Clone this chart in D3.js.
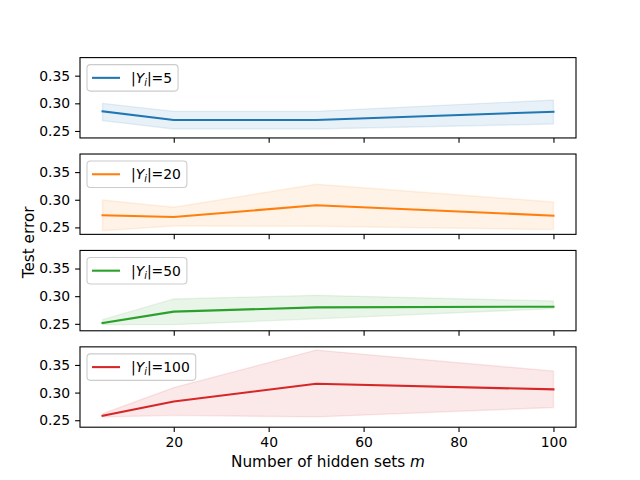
<!DOCTYPE html>
<html>
    <head>
        <meta charset="utf-8">
        <style>
            body{ margin: 0; background: #fff; }
            text{ font-family: "DejaVu Sans", sans-serif; }
        </style>
    </head>
    <body>
        <svg id="chart" width="640" height="480"></svg>
        <script src="https://cdnjs.cloudflare.com/ajax/libs/d3/7.8.5/d3.min.js"></script>
        <script>
            // number of hidden sets on the x axis
            var hiddenSets = [5, 20, 50, 100];
            var labelSizes = [5, 20, 50, 100];
            var colors = ["#1f77b4", "#ff7f0e", "#2ca02c", "#d62728"];

            // mean test error and the shaded band, one set per |Y_i|
            var mean5   = [0.2855, 0.2698, 0.2698, 0.2848];
            var low5    = [0.2686, 0.2535, 0.2535, 0.2626];
            var high5   = [0.3000, 0.2855, 0.2855, 0.3060];
            var mean20  = [0.2720, 0.2689, 0.2900, 0.2713];
            var low20   = [0.2441, 0.2526, 0.2520, 0.2460];
            var high20  = [0.2996, 0.2864, 0.3280, 0.2960];
            var mean50  = [0.2515, 0.2720, 0.2798, 0.2810];
            var low50   = [0.2485, 0.2485, 0.2590, 0.2774];
            var high50  = [0.2575, 0.2950, 0.3015, 0.2913];
            var mean100 = [0.2580, 0.2840, 0.3160, 0.3058];
            var low100  = [0.2560, 0.2588, 0.2560, 0.2730];
            var high100 = [0.2617, 0.3090, 0.3768, 0.3390];

            var xTicks = [20, 40, 60, 80, 100];
            var yTicks = [0.25, 0.30, 0.35];

            var means = [mean5, mean20, mean50, mean100];
            var lows = [low5, low20, low50, low100];
            var highs = [high5, high20, high50, high100];

            var W = 640, H = 480;
            var axLeft = 80, axRight = 576, axTop = 57.6, axBottom = 427.2;
            var nRows = 4, hspace = 0.2;
            var panelH = (axBottom - axTop) / (nRows + (nRows - 1) * hspace);
            var gap = panelH * hspace;

            var svg = d3.select("#chart");
            svg.append("rect").attr("width", W).attr("height", H).attr("fill", "#fff");

            var x = d3.scaleLinear().domain([0.25, 104.75]).range([axLeft, axRight]);

            var fontSize = 13.9;
            var labelSize = 15.28;

            labelSizes.forEach(function(size, k){
                var y0 = axTop + k * (panelH + gap);
                var y = d3.scaleLinear().domain([0.2374, 0.3827]).range([y0 + panelH, y0]);
                var g = svg.append("g");

                var pts = hiddenSets.map(function(m, i){
                    return {m: m, mean: means[k][i], lo: lows[k][i], hi: highs[k][i]};
                });

                var area = d3.area()
                    .x(function(d){ return x(d.m); })
                    .y0(function(d){ return y(d.lo); })
                    .y1(function(d){ return y(d.hi); });
                g.append("path")
                    .datum(pts)
                    .attr("d", area)
                    .attr("fill", colors[k])
                    .attr("fill-opacity", 0.1)
                    .attr("stroke", colors[k])
                    .attr("stroke-opacity", 0.1)
                    .attr("stroke-width", 1.4);

                var line = d3.line()
                    .x(function(d){ return x(d.m); })
                    .y(function(d){ return y(d.mean); });
                g.append("path")
                    .datum(pts)
                    .attr("d", line)
                    .attr("fill", "none")
                    .attr("stroke", colors[k])
                    .attr("stroke-width", 2.08)
                    .attr("stroke-linejoin", "round")
                    .attr("stroke-linecap", "square");

                // axes
                var xAxis = d3.axisBottom(x).tickValues(xTicks).tickSizeInner(4.9).tickSizeOuter(0).tickPadding(4.9);
                if(k < nRows - 1){ xAxis.tickFormat(""); }
                var xg = g.append("g").attr("transform", "translate(0," + (y0 + panelH) + ")").call(xAxis);
                var yAxis = d3.axisLeft(y).tickValues(yTicks).tickSizeInner(4.9).tickSizeOuter(0).tickPadding(4.9)
                    .tickFormat(d3.format(".2f"));
                var yg = g.append("g").attr("transform", "translate(" + axLeft + ",0)").call(yAxis);
                [xg, yg].forEach(function(a){
                    a.select(".domain").remove();
                    a.selectAll(".tick line").attr("stroke", "#000").attr("stroke-width", 1.1);
                    a.selectAll(".tick text").attr("fill", "#000").style("font-size", fontSize + "px")
                        .style("font-family", "DejaVu Sans");
                });

                g.append("rect")
                    .attr("x", axLeft).attr("y", y0)
                    .attr("width", axRight - axLeft).attr("height", panelH)
                    .attr("fill", "none").attr("stroke", "#000").attr("stroke-width", 1.1);

                // legend
                var lx = axLeft + 7, ly = y0 + 7;
                var leg = g.append("g");
                var box = leg.append("rect")
                    .attr("x", lx).attr("y", ly).attr("rx", 3.5).attr("ry", 3.5)
                    .attr("height", 26.5)
                    .attr("fill", "#fff").attr("fill-opacity", 0.8)
                    .attr("stroke", "#cccccc").attr("stroke-width", 1.1);
                var cy = ly + 13.25;
                leg.append("line")
                    .attr("x1", lx + 5).attr("x2", lx + 33)
                    .attr("y1", cy).attr("y2", cy)
                    .attr("stroke", colors[k]).attr("stroke-width", 2.08);
                var t = leg.append("text")
                    .attr("x", lx + 44).attr("y", cy + 5)
                    .style("font-size", fontSize + "px").attr("fill", "#000");
                t.append("tspan").text("|");
                t.append("tspan").attr("font-style", "italic").text("Y");
                t.append("tspan").attr("font-style", "italic").attr("dy", 3).style("font-size", "9.7px").text("i");
                t.append("tspan").attr("dy", -3).text("|=" + size);
                var tw = t.node().getComputedTextLength();
                box.attr("width", 44 + tw + 6);
            });

            svg.append("text")
                .attr("transform", "translate(34," + ((axTop + axBottom) / 2) + ") rotate(-90)")
                .attr("text-anchor", "middle")
                .style("font-size", labelSize + "px")
                .text("Test error");

            var xl = svg.append("text")
                .attr("x", (axLeft + axRight) / 2).attr("y", 467)
                .attr("text-anchor", "middle")
                .style("font-size", labelSize + "px");
            xl.append("tspan").text("Number of hidden sets ");
            xl.append("tspan").attr("font-style", "italic").text("m");
        </script>
    </body>
</html>
